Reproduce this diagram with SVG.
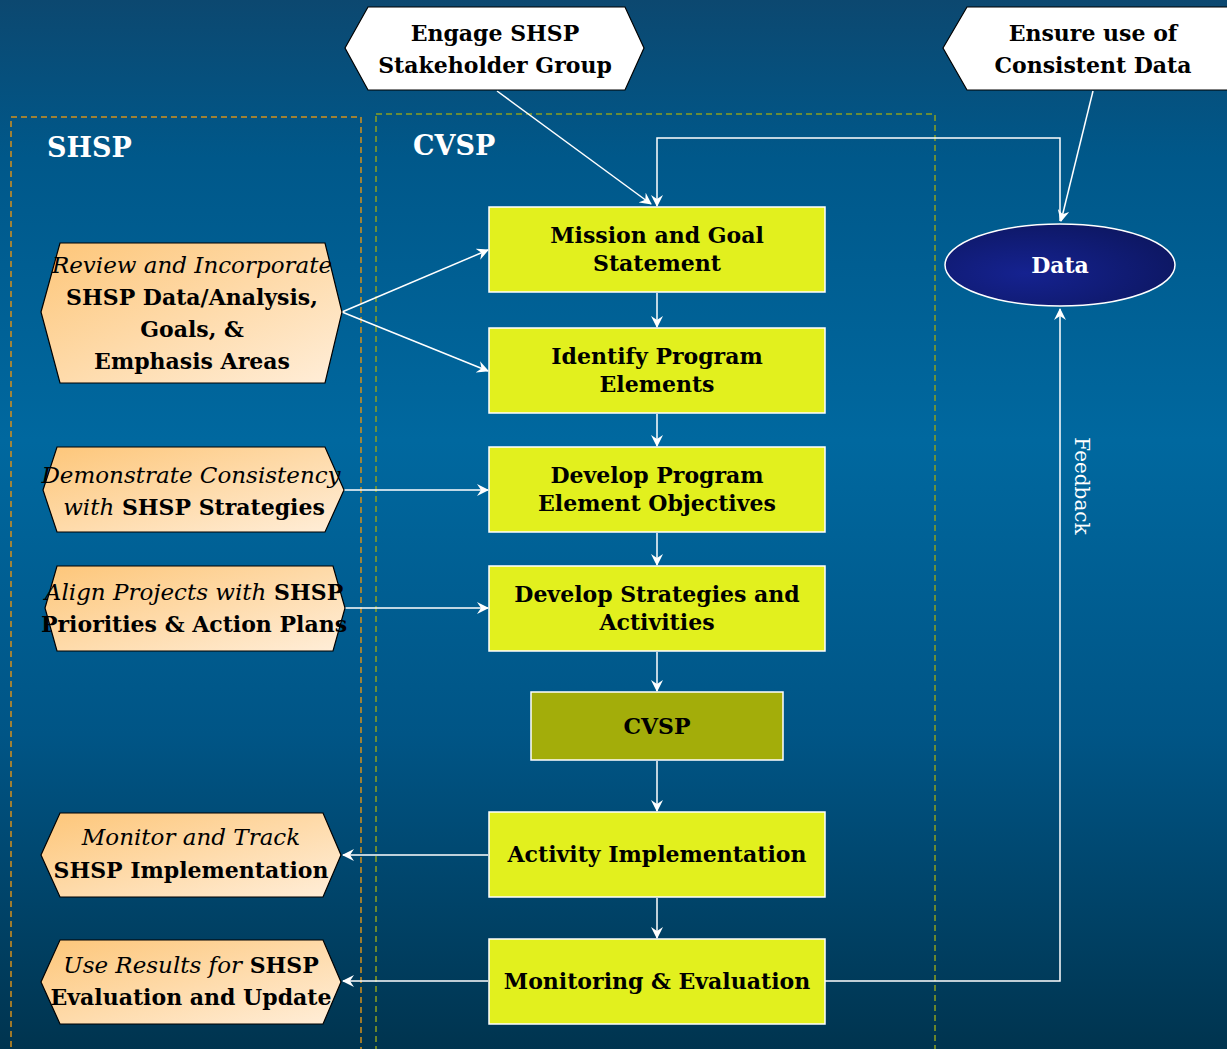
<svg xmlns="http://www.w3.org/2000/svg" width="1227" height="1049" viewBox="0 0 1227 1049">
<defs>
<linearGradient id="bg" x1="0" y1="0" x2="0" y2="1">
<stop offset="0" stop-color="#0c4870"/>
<stop offset="0.15" stop-color="#00588a"/>
<stop offset="0.42" stop-color="#00689f"/>
<stop offset="0.7" stop-color="#005586"/>
<stop offset="1" stop-color="#00344f"/>
</linearGradient>
<linearGradient id="peach" x1="0" y1="0" x2="1" y2="1">
<stop offset="0" stop-color="#fdc679"/>
<stop offset="1" stop-color="#ffeed9"/>
</linearGradient>
<radialGradient id="navy" cx="0.35" cy="0.6" r="0.7">
<stop offset="0" stop-color="#152290"/>
<stop offset="1" stop-color="#0d1762"/>
</radialGradient>
<marker id="ah" viewBox="0 0 12 12" refX="11" refY="6" markerWidth="12" markerHeight="12" markerUnits="userSpaceOnUse" orient="auto">
<path d="M0,0 L12,6 L0,12 L4,6 z" fill="#ffffff"/>
</marker>
</defs>
<style>
.t{font-family:"DejaVu Serif","Liberation Serif",serif;font-size:22px;font-weight:bold;fill:#000;text-anchor:middle}
.i{font-style:italic;font-weight:normal;font-size:23px}
.box{fill:#e2f01e;stroke:#ffffff;stroke-width:1.5}
.hex{fill:url(#peach);stroke:#000;stroke-width:1.2}
.whex{fill:#ffffff;stroke:#000;stroke-width:1.2}
.c{fill:none;stroke:#ffffff;stroke-width:1.5}
.lbl{font-family:"DejaVu Serif","Liberation Serif",serif;font-size:27px;font-weight:bold;fill:#ffffff}
.fb{font-family:"DejaVu Serif","Liberation Serif",serif;font-size:20px;fill:#ffffff;text-anchor:middle}
</style>
<rect x="0" y="0" width="1227" height="1049" fill="url(#bg)"/>
<rect x="11" y="117" width="350" height="960" fill="none" stroke="#d4901c" stroke-width="1.5" stroke-dasharray="6,4"/>
<rect x="376" y="114" width="559" height="960" fill="none" stroke="#8ca020" stroke-width="1.5" stroke-dasharray="6,4"/>
<text class="lbl" x="47" y="157">SHSP</text>
<text class="lbl" x="413" y="155">CVSP</text>

<g id="connectors">
<line class="c" x1="497" y1="91" x2="651" y2="204" marker-end="url(#ah)"/>
<line class="c" x1="1093" y1="91" x2="1061" y2="221" marker-end="url(#ah)"/>
<polyline class="c" points="1060,221 1060,138 657,138 657,206" marker-end="url(#ah)"/>
<line class="c" x1="657" y1="293" x2="657" y2="327" marker-end="url(#ah)"/>
<line class="c" x1="657" y1="414" x2="657" y2="446" marker-end="url(#ah)"/>
<line class="c" x1="657" y1="533" x2="657" y2="565" marker-end="url(#ah)"/>
<line class="c" x1="657" y1="652" x2="657" y2="691" marker-end="url(#ah)"/>
<line class="c" x1="657" y1="761" x2="657" y2="811" marker-end="url(#ah)"/>
<line class="c" x1="657" y1="898" x2="657" y2="938" marker-end="url(#ah)"/>
<line class="c" x1="342" y1="312" x2="488" y2="250" marker-end="url(#ah)"/>
<line class="c" x1="342" y1="312" x2="488" y2="371" marker-end="url(#ah)"/>
<line class="c" x1="344" y1="490" x2="488" y2="490" marker-end="url(#ah)"/>
<line class="c" x1="345" y1="608" x2="488" y2="608" marker-end="url(#ah)"/>
<line class="c" x1="488" y1="855" x2="343" y2="855" marker-end="url(#ah)"/>
<line class="c" x1="488" y1="981" x2="343" y2="981" marker-end="url(#ah)"/>
<polyline class="c" points="825,981 1060,981 1060,309" marker-end="url(#ah)"/>
<text class="fb" x="1080" y="486" transform="rotate(90 1080 486)" dominant-baseline="middle">Feedback</text>
</g>

<g id="engage">
<polygon class="whex" points="345,48 368,7 625,7 644,48 625,90 368,90"/>
<text class="t" x="495" y="41">Engage SHSP</text>
<text class="t" x="495" y="73">Stakeholder Group</text>
</g>
<g id="ensure">
<polygon class="whex" points="943,48 967,7 1240,7 1260,48 1240,90 967,90"/>
<text class="t" x="1093" y="41">Ensure use of</text>
<text class="t" x="1093" y="73">Consistent Data</text>
</g>

<g id="data">
<ellipse cx="1060" cy="265" rx="115" ry="41" fill="url(#navy)" stroke="#ffffff" stroke-width="1.5"/>
<text class="t" x="1060" y="273" style="fill:#ffffff">Data</text>
</g>

<g id="mission">
<rect class="box" x="489" y="207" width="336" height="85"/>
<text class="t" x="657" y="243">Mission and Goal</text>
<text class="t" x="657" y="271">Statement</text>
</g>
<g id="identify">
<rect class="box" x="489" y="328" width="336" height="85"/>
<text class="t" x="657" y="364">Identify Program</text>
<text class="t" x="657" y="392">Elements</text>
</g>
<g id="objectives">
<rect class="box" x="489" y="447" width="336" height="85"/>
<text class="t" x="657" y="483">Develop Program</text>
<text class="t" x="657" y="511">Element Objectives</text>
</g>
<g id="strategies">
<rect class="box" x="489" y="566" width="336" height="85"/>
<text class="t" x="657" y="602">Develop Strategies and</text>
<text class="t" x="657" y="630">Activities</text>
</g>
<g id="cvsp">
<rect x="531" y="692" width="252" height="68" fill="#a3ad0a" stroke="#ffffff" stroke-width="1.5"/>
<text class="t" x="657" y="734">CVSP</text>
</g>
<g id="activity">
<rect class="box" x="489" y="812" width="336" height="85"/>
<text class="t" x="657" y="862">Activity Implementation</text>
</g>
<g id="monitoring">
<rect class="box" x="489" y="939" width="336" height="85"/>
<text class="t" x="657" y="989">Monitoring &amp; Evaluation</text>
</g>

<g id="review">
<polygon class="hex" points="41,312 60,243 325,243 342,312 325,383 60,383"/>
<text class="t i" x="192" y="273">Review and Incorporate</text>
<text class="t" x="192" y="305">SHSP Data/Analysis,</text>
<text class="t" x="192" y="337">Goals, &amp;</text>
<text class="t" x="192" y="369">Emphasis Areas</text>
</g>
<g id="demonstrate">
<polygon class="hex" points="43,490 57,447 325,447 344,490 325,532 57,532"/>
<text class="t i" x="191" y="483">Demonstrate Consistency</text>
<text class="t" x="194" y="515"><tspan class="i">with</tspan> SHSP Strategies</text>
</g>
<g id="align">
<polygon class="hex" points="45,608 57,566 333,566 345,608 333,651 57,651"/>
<text class="t" x="194" y="600"><tspan class="i">Align Projects with</tspan> SHSP</text>
<text class="t" x="194" y="632">Priorities &amp; Action Plans</text>
</g>
<g id="monitor">
<polygon class="hex" points="41,855 60,813 323,813 341,855 323,897 60,897"/>
<text class="t i" x="191" y="845">Monitor and Track</text>
<text class="t" x="191" y="878">SHSP Implementation</text>
</g>
<g id="useresults">
<polygon class="hex" points="41,982 60,940 323,940 341,982 323,1024 60,1024"/>
<text class="t" x="191" y="973"><tspan class="i">Use Results for</tspan> SHSP</text>
<text class="t" x="191" y="1005">Evaluation and Update</text>
</g>
</svg>
